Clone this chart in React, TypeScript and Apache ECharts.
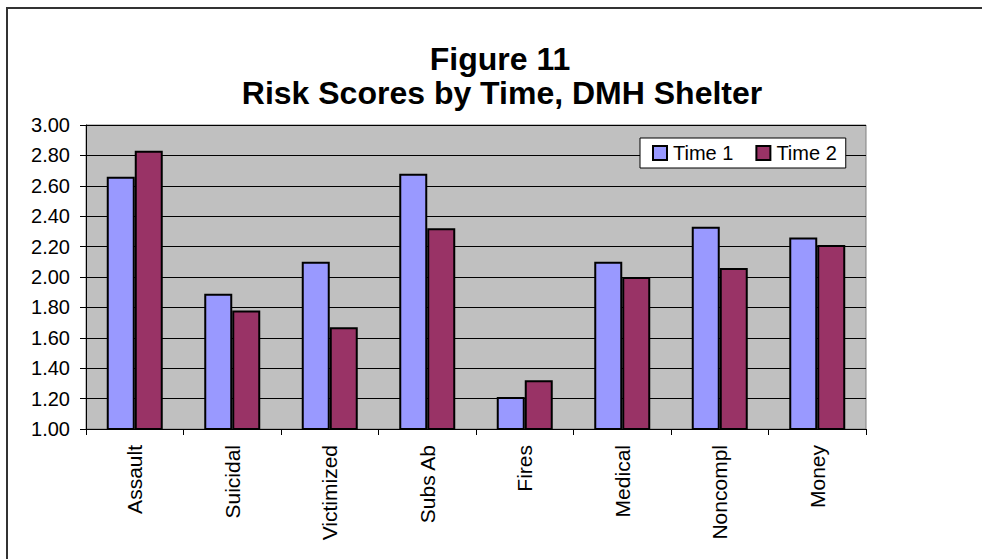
import React, { useEffect, useRef } from "react";
import * as echarts from "echarts";

const categories = ["Assault", "Suicidal", "Victimized", "Subs Ab", "Fires", "Medical", "Noncompl", "Money"];
const time1 = [2.66, 1.89, 2.1, 2.68, 1.21, 2.1, 2.33, 2.26];
const time2 = [2.83, 1.78, 1.67, 2.32, 1.32, 2.0, 2.06, 2.21];
const seriesNames = ["Time 1", "Time 2"];
const titleLines = ["Figure 11", "Risk Scores by Time, DMH Shelter"];

const FONT = "'Liberation Sans', Arial, Helvetica, sans-serif";

export default function App() {
  const ref = useRef<HTMLDivElement>(null);
  useEffect(() => {
    if (!ref.current) return;
    const chart = echarts.init(ref.current, null, { renderer: "svg" });
    chart.setOption({
      animation: false,
      backgroundColor: "#ffffff",
      textStyle: { fontFamily: FONT, color: "#000" },
      grid: {
        left: 86,
        right: 116,
        top: 125,
        bottom: 130,
        show: true,
        backgroundColor: "#c0c0c0",
        borderColor: "#808080",
        borderWidth: 1,
      },
      legend: {
        left: 640,
        top: 138,
        padding: [5, 9, 5, 12],
        itemWidth: 14,
        itemHeight: 14,
        itemGap: 22,
        backgroundColor: "#ffffff",
        borderColor: "#000",
        borderWidth: 1,
        borderRadius: 0,
        icon: "rect",
        itemStyle: { borderColor: "#000", borderWidth: 2 },
        textStyle: { fontFamily: FONT, fontSize: 20, color: "#000", padding: [0, 0, 0, 1] },
        data: seriesNames,
      },
      xAxis: {
        type: "category",
        data: categories,
        boundaryGap: true,
        axisLine: { show: true, lineStyle: { color: "#000", width: 1 } },
        axisTick: { show: true, length: 6, lineStyle: { color: "#000" } },
        axisLabel: {
          rotate: 90,
          margin: 16,
          fontSize: 21,
          fontFamily: FONT,
          color: "#000",
          interval: 0,
        },
        splitLine: { show: false },
      },
      yAxis: {
        type: "value",
        min: 1,
        max: 3,
        interval: 0.2,
        axisLine: { show: true, lineStyle: { color: "#000", width: 1 } },
        axisTick: { show: true, length: 6, lineStyle: { color: "#000" } },
        axisLabel: {
          margin: 16,
          fontSize: 20,
          fontFamily: FONT,
          color: "#000",
          formatter: (v: number) => v.toFixed(2),
        },
        splitLine: { show: true, lineStyle: { color: "#000", width: 1 } },
      },
      series: [
        {
          name: seriesNames[0],
          type: "bar",
          data: time1,
          barWidth: 28,
          barGap: "0%",
          itemStyle: { color: "#9999ff", borderColor: "#000", borderWidth: 2 },
        },
        {
          name: seriesNames[1],
          type: "bar",
          data: time2,
          barWidth: 28,
          barGap: "0%",
          itemStyle: { color: "#993366", borderColor: "#000", borderWidth: 2 },
        },
      ],
      graphic: [
        {
          type: "line",
          shape: { x1: 7, y1: 8, x2: 982, y2: 8 },
          style: { stroke: "#333", lineWidth: 2 },
        },
        {
          type: "line",
          shape: { x1: 7, y1: 7, x2: 7, y2: 559 },
          style: { stroke: "#333", lineWidth: 2 },
        },
        {
          type: "text",
          x: 500,
          y: 59,
          style: {
            text: titleLines[0],
            textAlign: "center",
            textVerticalAlign: "middle",
            font: `bold 32px ${FONT}`,
            fill: "#000",
          },
        },
        {
          type: "text",
          x: 502,
          y: 93,
          style: {
            text: titleLines[1],
            textAlign: "center",
            textVerticalAlign: "middle",
            font: `bold 32px ${FONT}`,
            fill: "#000",
          },
        },
      ],
    });
    return () => chart.dispose();
  }, []);
  return (
    <div
      ref={ref}
      style={{ position: "fixed", left: 0, top: 0, width: 982, height: 559 }}
    />
  );
}
